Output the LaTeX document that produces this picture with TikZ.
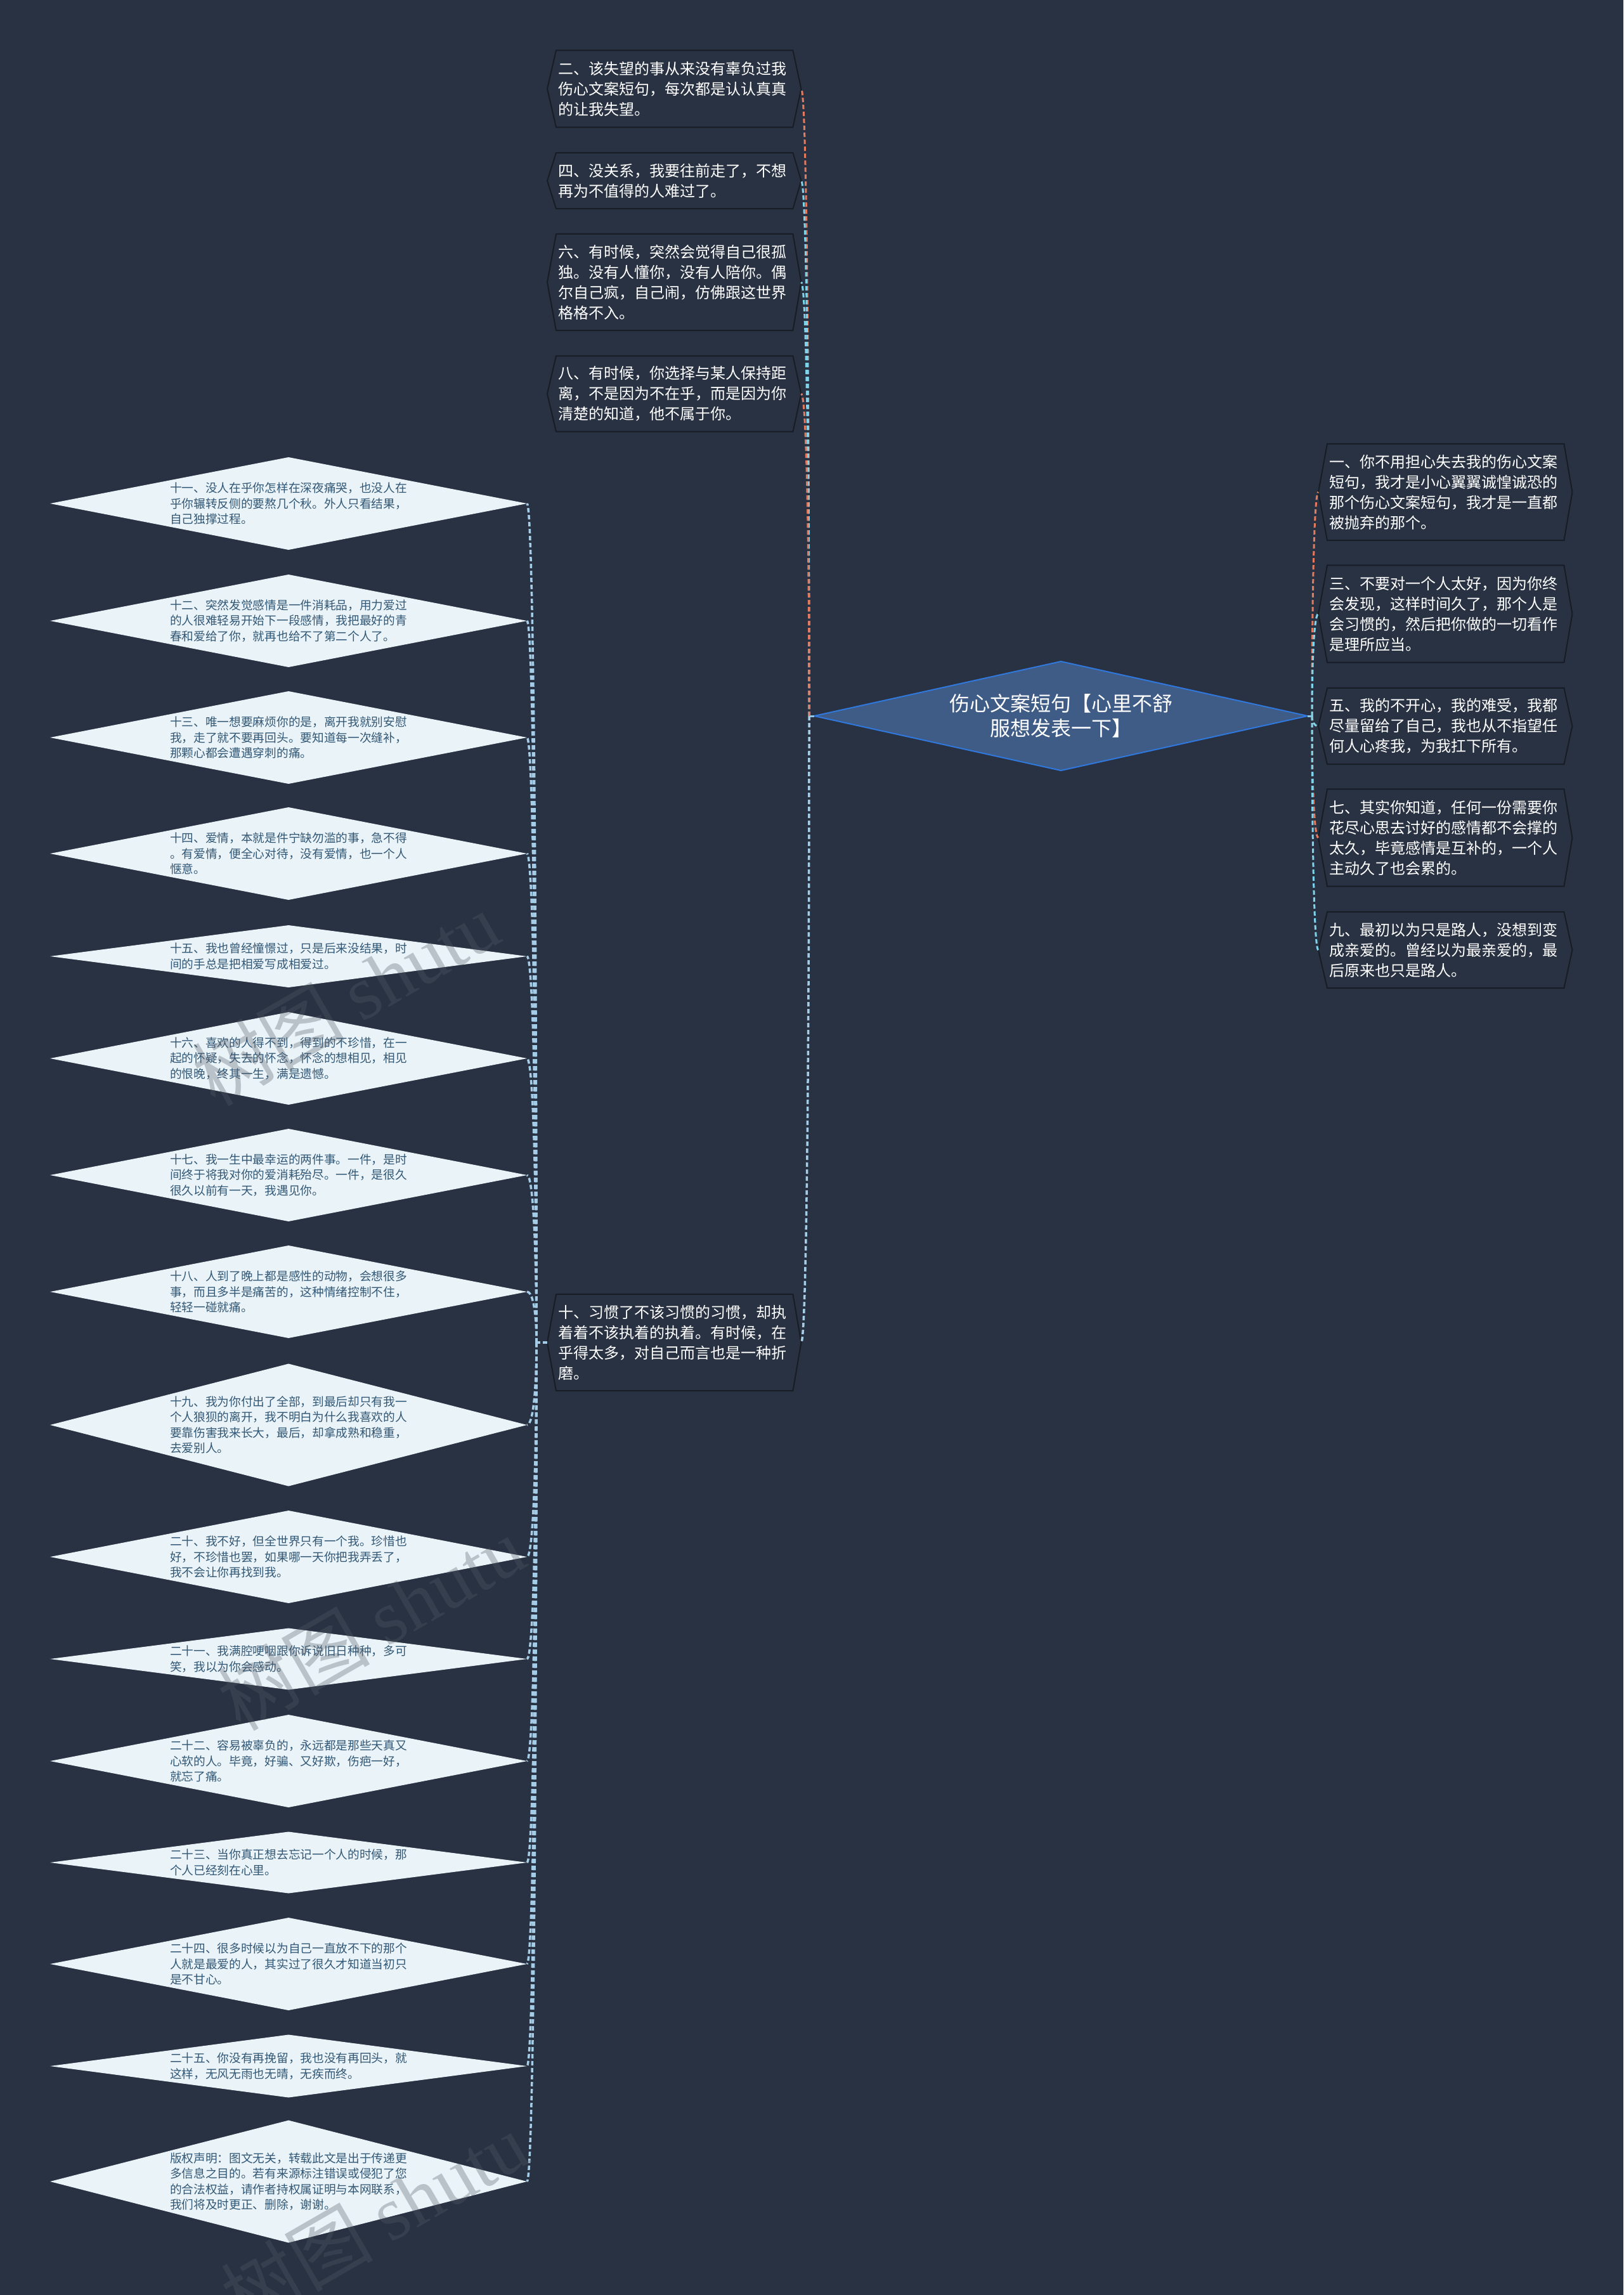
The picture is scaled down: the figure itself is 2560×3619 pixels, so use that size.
\documentclass[tikz,border=0pt]{standalone}
\usepackage{fontspec}
\setmainfont{Noto Sans CJK SC}
\newfontfamily\wmfont{Liberation Serif}
\usetikzlibrary{shapes.geometric,calc}
\definecolor{bgc}{RGB}{41,50,66}
\definecolor{boxline}{RGB}{24,28,36}
\definecolor{dfill}{RGB}{234,243,248}
\definecolor{dtextc}{RGB}{50,88,118}
\definecolor{cfill}{RGB}{62,92,134}
\definecolor{cborder}{RGB}{48,120,222}
\definecolor{orc}{RGB}{226,122,96}
\definecolor{cyc}{RGB}{126,210,234}
\definecolor{lbc}{RGB}{164,204,230}
\definecolor{stubc}{RGB}{140,200,230}
\definecolor{wmc}{RGB}{84,92,104}
\newcommand\conn[3]{\draw[#1] (#2) .. controls ($(#2)!0.5!(#2|-#3)$) and ($(#3)!0.7!(#2|-#3)$) .. (#3);}
\newcommand\hexo[1]{\draw[hexline] (#1.north west) -- (#1.north east) -- ([xshift=13pt]#1.east) -- (#1.south east) -- (#1.south west) -- ([xshift=-14pt]#1.west) -- cycle;
  \coordinate (#1e) at ([xshift=13pt]#1.east); \coordinate (#1w) at ([xshift=-14pt]#1.west);}
\begin{document}
\begin{tikzpicture}[x=1pt,y=-1pt,
 hexbox/.style={draw=none,anchor=west,minimum width=373pt,text width=367pt,inner xsep=3pt,inner ysep=0pt,align=left,text=white,font=\fontsize{24pt}{32pt}\selectfont},
 hexline/.style={draw=boxline,line width=2pt,line join=miter},
 ldia/.style={diamond,fill=dfill,draw=none,minimum width=752pt,inner sep=0pt,outer sep=0pt},
 dtext/.style={align=left,text=dtextc,inner sep=0pt,font=\fontsize{18.7pt}{24.5pt}\selectfont},
 cdia/.style={diamond,fill=cfill,draw=cborder,line width=2pt,minimum width=778pt,minimum height=172pt,inner sep=0pt,outer sep=0pt},
 ctext/.style={align=center,text=white,inner sep=0pt,font=\fontsize{32pt}{39pt}\selectfont},
 oconn/.style={draw=orc,line width=3pt,dash pattern=on 7pt off 4pt},
 cconn/.style={draw=cyc,line width=3pt,dash pattern=on 7pt off 4pt},
 lconn/.style={draw=lbc,line width=3.5pt,dash pattern=on 7pt off 4pt},
 stub/.style={draw=stubc,line width=3pt},
 wm/.style={text=wmc,opacity=0.32,inner sep=0pt,font=\fontsize{120pt}{120pt}\selectfont}
]
\useasboundingbox (0,0) rectangle (2560,3619);
\clip (0,0) rectangle (2560,3619);
\fill[bgc] (0,0) rectangle (2560,3619);

% central topic
\node[cdia] (c) at (1673,1129) {};
\node[ctext] (ct) at (c) {伤心文案短句【心里不舒\\服想发表一下】};

% left-upper boxes
\node[hexbox,minimum height=121pt] (b2) at (877,140) {二、该失望的事从来没有辜负过我\\伤心文案短句，每次都是认认真真\\的让我失望。};
\node[hexbox,minimum height=88pt] (b4) at (877,285) {四、没关系，我要往前走了，不想\\再为不值得的人难过了。};
\node[hexbox,minimum height=152pt] (b6) at (877,445) {六、有时候，突然会觉得自己很孤\\独。没有人懂你，没有人陪你。偶\\尔自己疯，自己闹，仿佛跟这世界\\格格不入。};
\node[hexbox,minimum height=119pt] (b8) at (877,621) {八、有时候，你选择与某人保持距\\离，不是因为不在乎，而是因为你\\清楚的知道，他不属于你。};
\node[hexbox,minimum height=152pt] (b10) at (877,2117) {十、习惯了不该习惯的习惯，却执\\着着不该执着的执着。有时候，在\\乎得太多，对自己而言也是一种折\\磨。};

% right boxes
\node[hexbox,minimum height=152pt] (b1) at (2093,776) {一、你不用担心失去我的伤心文案\\短句，我才是小心翼翼诚惶诚恐的\\那个伤心文案短句，我才是一直都\\被抛弃的那个。};
\node[hexbox,minimum height=153pt] (b3) at (2093,968) {三、不要对一个人太好，因为你终\\会发现，这样时间久了，那个人是\\会习惯的，然后把你做的一切看作\\是理所应当。};
\node[hexbox,minimum height=120pt] (b5) at (2093,1145) {五、我的不开心，我的难受，我都\\尽量留给了自己，我也从不指望任\\何人心疼我，为我扛下所有。};
\node[hexbox,minimum height=153pt] (b7) at (2093,1321) {七、其实你知道，任何一份需要你\\花尽心思去讨好的感情都不会撑的\\太久，毕竟感情是互补的，一个人\\主动久了也会累的。};
\node[hexbox,minimum height=120pt] (b9) at (2093,1498) {九、最初以为只是路人，没想到变\\成亲爱的。曾经以为最亲爱的，最\\后原来也只是路人。};

\hexo{b2}\hexo{b4}\hexo{b6}\hexo{b8}\hexo{b10}
\hexo{b1}\hexo{b3}\hexo{b5}\hexo{b7}\hexo{b9}

% left diamonds
\node[ldia,minimum height=146pt] (d11) at (455,794) {};
\node[dtext] (t11) at (d11) {十一、没人在乎你怎样在深夜痛哭，也没人在\\乎你辗转反侧的要熬几个秋。外人只看结果，\\自己独撑过程。};
\node[ldia,minimum height=146pt] (d12) at (455,979) {};
\node[dtext] (t12) at (d12) {十二、突然发觉感情是一件消耗品，用力爱过\\的人很难轻易开始下一段感情，我把最好的青\\春和爱给了你，就再也给不了第二个人了。};
\node[ldia,minimum height=146pt] (d13) at (455,1163) {};
\node[dtext] (t13) at (d13) {十三、唯一想要麻烦你的是，离开我就别安慰\\我，走了就不要再回头。要知道每一次缝补，\\那颗心都会遭遇穿刺的痛。};
\node[ldia,minimum height=146pt] (d14) at (455,1346) {};
\node[dtext] (t14) at (d14) {十四、爱情，本就是件宁缺勿滥的事，急不得\\。有爱情，便全心对待，没有爱情，也一个人\\惬意。};
\node[ldia,minimum height=98pt] (d15) at (455,1508) {};
\node[dtext] (t15) at (d15) {十五、我也曾经憧憬过，只是后来没结果，时\\间的手总是把相爱写成相爱过。};
\node[ldia,minimum height=146pt] (d16) at (455,1669) {};
\node[dtext] (t16) at (d16) {十六、喜欢的人得不到，得到的不珍惜，在一\\起的怀疑，失去的怀念，怀念的想相见，相见\\的恨晚，终其一生，满是遗憾。};
\node[ldia,minimum height=146pt] (d17) at (455,1853) {};
\node[dtext] (t17) at (d17) {十七、我一生中最幸运的两件事。一件，是时\\间终于将我对你的爱消耗殆尽。一件，是很久\\很久以前有一天，我遇见你。};
\node[ldia,minimum height=146pt] (d18) at (455,2037) {};
\node[dtext] (t18) at (d18) {十八、人到了晚上都是感性的动物，会想很多\\事，而且多半是痛苦的，这种情绪控制不住，\\轻轻一碰就痛。};
\node[ldia,minimum height=193pt] (d19) at (455,2247) {};
\node[dtext] (t19) at (d19) {十九、我为你付出了全部，到最后却只有我一\\个人狼狈的离开，我不明白为什么我喜欢的人\\要靠伤害我来长大，最后，却拿成熟和稳重，\\去爱别人。};
\node[ldia,minimum height=146pt] (d20) at (455,2455) {};
\node[dtext] (t20) at (d20) {二十、我不好，但全世界只有一个我。珍惜也\\好，不珍惜也罢，如果哪一天你把我弄丢了，\\我不会让你再找到我。};
\node[ldia,minimum height=97pt] (d21) at (455,2616) {};
\node[dtext] (t21) at (d21) {二十一、我满腔哽咽跟你诉说旧日种种，多可\\笑，我以为你会感动。};
\node[ldia,minimum height=146pt] (d22) at (455,2777) {};
\node[dtext] (t22) at (d22) {二十二、容易被辜负的，永远都是那些天真又\\心软的人。毕竟，好骗、又好欺，伤疤一好，\\就忘了痛。};
\node[ldia,minimum height=97pt] (d23) at (455,2937) {};
\node[dtext] (t23) at (d23) {二十三、当你真正想去忘记一个人的时候，那\\个人已经刻在心里。};
\node[ldia,minimum height=146pt] (d24) at (455,3097) {};
\node[dtext] (t24) at (d24) {二十四、很多时候以为自己一直放不下的那个\\人就是最爱的人，其实过了很久才知道当初只\\是不甘心。};
\node[ldia,minimum height=99pt] (d25) at (455,3258) {};
\node[dtext] (t25) at (d25) {二十五、你没有再挽留，我也没有再回头，就\\这样，无风无雨也无晴，无疾而终。};
\node[ldia,minimum height=193pt] (d26) at (455,3440) {};
\node[dtext] (t26) at (d26) {版权声明：图文无关，转载此文是出于传递更\\多信息之目的。若有来源标注错误或侵犯了您\\的合法权益，请作者持权属证明与本网联系，\\我们将及时更正、删除，谢谢。};

% connectors from central topic
\coordinate (jl) at (1276,1129);
\coordinate (jr) at (2069,1129);
\draw[stub] (c.west) -- (jl);
\draw[stub] (c.east) -- (jr);
\conn{oconn}{jl}{b2e}
\conn{cconn}{jl}{b4e}
\conn{cconn}{jl}{b6e}
\conn{oconn}{jl}{b8e}
\conn{lconn}{jl}{b10e}
\conn{oconn}{jr}{b1w}
\conn{cconn}{jr}{b3w}
\conn{cconn}{jr}{b5w}
\conn{oconn}{jr}{b7w}
\conn{cconn}{jr}{b9w}

% connectors from node 十 to the diamonds
\coordinate (kl) at (846,2117);
\draw[lconn] (b10w) -- (kl);
\foreach \d in {d11,d12,d13,d14,d15,d16,d17,d18,d19,d20,d21,d22,d23,d24,d25,d26}{
  \conn{lconn}{kl}{\d.east}
}

% watermark
\node[wm,rotate=30] (wm1) at (545,1575) {树图 {\wmfont shutu}};
\node[wm,rotate=30] (wm2) at (585,2560) {树图 {\wmfont shutu}};
\node[wm,rotate=30] (wm3) at (590,3500) {树图 {\wmfont shutu}};
\end{tikzpicture}
\end{document}
